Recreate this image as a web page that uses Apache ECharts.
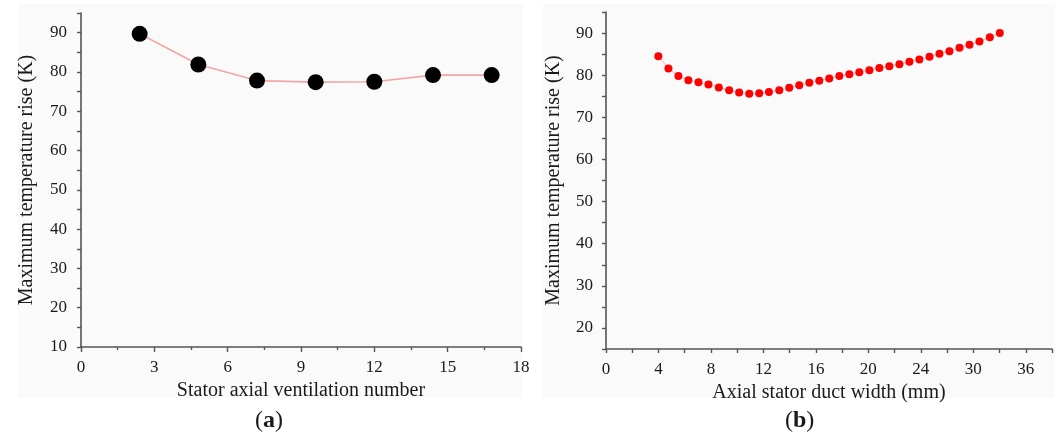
<!DOCTYPE html>
<html>
<head>
<meta charset="utf-8">
<script src="https://cdn.jsdelivr.net/npm/echarts@6/dist/echarts.min.js"></script>
<style>
html,body{margin:0;padding:0;background:#fff;}
#c{width:1061px;height:436px;}
</style>
</head>
<body>
<div id="c"></div>
<script>
// Panel (a)
const ventNumbers = [2.4, 4.8, 7.2, 9.6, 12, 14.4, 16.8];
const ventTempRise = [89.7, 81.9, 77.8, 77.4, 77.5, 79.2, 79.2];
const aXTickLabels = ['0', '3', '6', '9', '12', '15', '18'];
const aYTickLabels = ['10', '20', '30', '40', '50', '60', '70', '80', '90'];

// Panel (b)  (x given as position on the drawn axis)
const ductWidthPos = [3.99, 4.76, 5.52, 6.28, 7.05, 7.81, 8.60, 9.39, 10.15, 10.92,
  11.68, 12.42, 13.21, 13.97, 14.73, 15.50, 16.26, 17.02, 17.79, 18.55,
  19.31, 20.08, 20.84, 21.60, 22.37, 23.13, 23.89, 24.66, 25.42, 26.18,
  26.95, 27.71, 28.47, 29.26, 30.02];
const ductTempRise = [84.5, 81.6, 79.8, 78.8, 78.3, 77.8, 77.1, 76.4, 75.9, 75.6,
  75.7, 76.0, 76.4, 77.0, 77.6, 78.2, 78.7, 79.2, 79.8, 80.2,
  80.7, 81.2, 81.7, 82.1, 82.6, 83.2, 83.7, 84.4, 85.1, 85.7,
  86.5, 87.2, 88.0, 89.0, 90.0];
const bXTickLabels = ['0', '4', '8', '12', '16', '20', '24', '30', '36'];
const bYTickLabels = ['20', '30', '40', '50', '60', '70', '80', '90'];

const FONT = '"Liberation Serif", "DejaVu Serif", serif';
const AX = '#555';
const TXT = '#1a1a1a';

const chart = echarts.init(document.getElementById('c'), null, {renderer: 'canvas'});

function axisCommon() {
  return {
    axisLine: {show: true, onZero: false, lineStyle: {color: AX, width: 1.6}},
    axisTick: {show: true, inside: false, length: 4, lineStyle: {color: AX, width: 1.4}},
    splitLine: {show: false},
    nameTextStyle: {fontFamily: FONT, fontSize: 20, color: TXT},
  };
}

const option = {
  backgroundColor: '#fff',
  animation: false,
  graphic: [
    {type: 'rect', z: -10, shape: {x: 18, y: 4, width: 505, height: 394}, style: {fill: '#fafafa'}},
    {type: 'rect', z: -10, shape: {x: 543, y: 4, width: 512, height: 394}, style: {fill: '#fafafa'}},
    {type: 'text', left: 255, top: 409, style: {
      text: '({b|a})', font: '24px ' + FONT, fill: TXT,
      rich: {b: {fontFamily: FONT, fontSize: 24, fontWeight: 'bold', fill: TXT}}
    }},
    {type: 'text', left: 785, top: 409, style: {
      text: '({b|b})', font: '24px ' + FONT, fill: TXT,
      rich: {b: {fontFamily: FONT, fontSize: 24, fontWeight: 'bold', fill: TXT}}
    }}
  ],
  grid: [
    {left: 81, top: 13, width: 440, height: 334, containLabel: false},
    {left: 606, top: 12, width: 446, height: 337, containLabel: false}
  ],
  xAxis: [
    Object.assign(axisCommon(), {
      gridIndex: 0, type: 'value', min: 0, max: 18, interval: 3,
      axisTick: {show: true, length: 5, lineStyle: {color: AX, width: 1.4}},
      minorTick: {show: true, splitNumber: 2, length: 3, lineStyle: {color: AX, width: 1.4}},
      minorSplitLine: {show: false},
      axisLabel: {fontFamily: FONT, fontSize: 17, color: TXT, margin: 12,
        formatter: v => aXTickLabels[Math.round(v / 3)]},
      name: 'Stator axial ventilation number', nameLocation: 'middle', nameGap: 31
    }),
    Object.assign(axisCommon(), {
      gridIndex: 1, type: 'value', min: 0, max: 34, interval: 2,
      axisLabel: {fontFamily: FONT, fontSize: 17, color: TXT, margin: 12,
        formatter: v => (v % 4 === 0 && v / 4 < bXTickLabels.length) ? bXTickLabels[v / 4] : ''},
      name: 'Axial stator duct width (mm)', nameLocation: 'middle', nameGap: 31
    })
  ],
  yAxis: [
    Object.assign(axisCommon(), {
      gridIndex: 0, type: 'value', min: 10, max: 95, interval: 5,
      axisLabel: {fontFamily: FONT, fontSize: 17, color: TXT, margin: 14,
        formatter: v => (v % 10 === 0) ? aYTickLabels[(v - 10) / 10] : ''},
      name: 'Maximum temperature rise (K)', nameLocation: 'middle', nameGap: 44
    }),
    Object.assign(axisCommon(), {
      gridIndex: 1, type: 'value', min: 15, max: 95, interval: 5,
      axisLabel: {fontFamily: FONT, fontSize: 17, color: TXT, margin: 13,
        formatter: v => (v % 10 === 0) ? bYTickLabels[(v - 20) / 10] : ''},
      name: 'Maximum temperature rise (K)', nameLocation: 'middle', nameGap: 42
    })
  ],
  series: [
    {
      type: 'line', xAxisIndex: 0, yAxisIndex: 0,
      data: ventNumbers.map((x, i) => [x, ventTempRise[i]]),
      symbol: 'circle', symbolSize: 16,
      itemStyle: {color: '#000'},
      lineStyle: {color: '#f2a6a6', width: 1.6},
      z: 3
    },
    {
      type: 'line', xAxisIndex: 1, yAxisIndex: 1,
      data: ductWidthPos.map((x, i) => [x, ductTempRise[i]]),
      symbol: 'circle', symbolSize: 8,
      itemStyle: {color: '#ff0000'},
      lineStyle: {color: '#f6b0b0', width: 1},
      z: 3
    }
  ]
};
chart.setOption(option);
</script>
</body>
</html>
